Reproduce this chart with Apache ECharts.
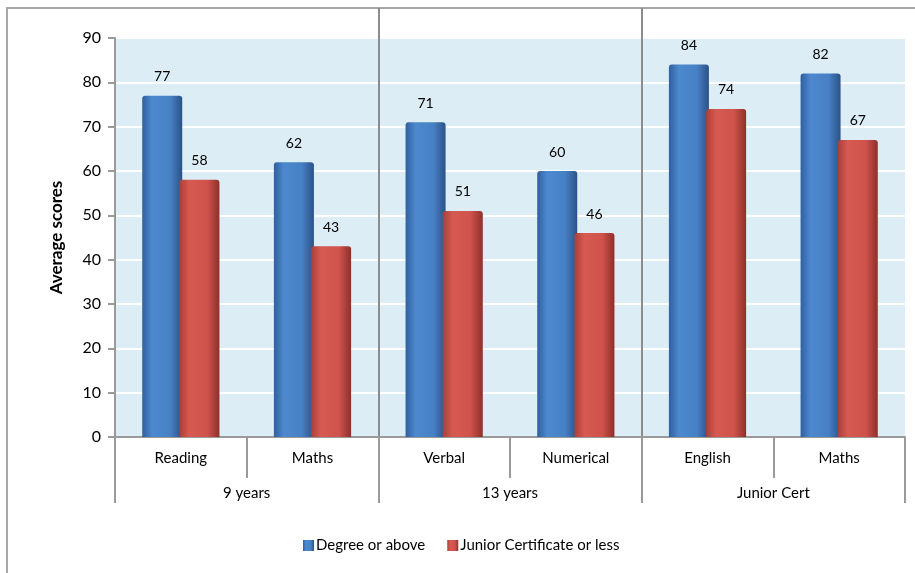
<!DOCTYPE html>
<html>
<head>
<meta charset="utf-8">
<script src="https://cdn.jsdelivr.net/npm/echarts@6/dist/echarts.min.js"></script>
<style>
  html, body { margin: 0; padding: 0; background: #fff; }
  #main { width: 915px; height: 573px; }
</style>
</head>
<body>
<div id="main"></div>
<script>
// 数据
const subCategories = ["Reading", "Maths", "Verbal", "Numerical", "English", "Maths"];
const groups = ["9 years", "13 years", "Junior Cert"];
const degreeScores = [77, 62, 71, 60, 84, 82];
const juniorScores = [58, 43, 51, 46, 74, 67];
const seriesNames = ["Degree or above", "Junior Certificate or less"];

const font = "Lato, 'Noto Sans', sans-serif";

// 柱子的立体渐变
function barGradient(edgeL, mid1, mid2, edgeR) {
  return new echarts.graphic.LinearGradient(0, 0, 1, 0, [
    { offset: 0, color: edgeL },
    { offset: 0.25, color: mid1 },
    { offset: 0.7, color: mid2 },
    { offset: 1, color: edgeR }
  ]);
}

const myChart = echarts.init(document.getElementById("main"));

myChart.setOption({
  animation: false,
  textStyle: { fontFamily: font },
  graphic: [
    {
      type: "rect",
      shape: { x: 7, y: 8, width: 1000, height: 1000 },
      style: { fill: "none", stroke: "#a6a6a6", lineWidth: 2 },
      silent: true
    }
  ],
  legend: {
    data: seriesNames,
    bottom: 15,
    left: 298,
    icon: "rect",
    itemWidth: 11,
    itemHeight: 11,
    itemGap: 22,
    textStyle: { fontSize: 15, color: "#000", fontFamily: font, padding: [0, 0, 0, -3] }
  },
  grid: [
    { left: 115, right: 10, top: 38, bottom: 136, show: true, backgroundColor: "#dcedf5", borderWidth: 0 },
    { left: 115, right: 10, top: 8, bottom: 136, show: false }
  ],
  xAxis: [
    {
      type: "category",
      gridIndex: 0,
      data: subCategories,
      axisLine: { show: true, lineStyle: { color: "#9a9a9a", width: 2 } },
      axisTick: { show: true, interval: 0, length: 41, lineStyle: { color: "#9a9a9a", width: 2 } },
      axisLabel: { interval: 0, margin: 14, fontSize: 15, color: "#000" },
      splitLine: { show: false }
    },
    {
      type: "category",
      gridIndex: 1,
      data: groups,
      axisLine: { show: false },
      axisTick: { show: true, interval: 0, length: 66, lineStyle: { color: "#9a9a9a", width: 2 } },
      axisLabel: { interval: 0, margin: 49, fontSize: 15, color: "#000" },
      splitLine: {
        show: true,
        interval: 0,
        showMinLine: false,
        showMaxLine: false,
        lineStyle: { color: "#8c8c8c", width: 2 }
      }
    }
  ],
  yAxis: [
    {
      type: "value",
      gridIndex: 0,
      min: 0,
      max: 90,
      interval: 10,
      name: "Average scores",
      nameLocation: "middle",
      nameGap: 50,
      nameTextStyle: { fontSize: 17, fontWeight: "bold", color: "#000" },
      axisLine: { show: true, lineStyle: { color: "#9a9a9a", width: 2 } },
      axisTick: { show: true, length: 7, lineStyle: { color: "#9a9a9a", width: 2 } },
      axisLabel: { margin: 14, fontSize: 16, color: "#000" },
      splitLine: { lineStyle: { color: "#ffffff", width: 2 } }
    },
    {
      type: "value",
      gridIndex: 1,
      show: false,
      min: 0,
      max: 1
    }
  ],
  series: [
    {
      name: seriesNames[0],
      type: "bar",
      xAxisIndex: 0,
      yAxisIndex: 0,
      data: degreeScores,
      barWidth: 40,
      barGap: "-7%",
      itemStyle: {
        color: barGradient("#2f609f", "#4d89cf", "#4780c4", "#2a5288"),
        borderRadius: [3, 3, 0, 0]
      },
      label: { show: true, position: "top", distance: 12, fontSize: 14, color: "#000" }
    },
    {
      name: seriesNames[1],
      type: "bar",
      xAxisIndex: 0,
      yAxisIndex: 0,
      data: juniorScores,
      barWidth: 40,
      itemStyle: {
        color: barGradient("#a8403a", "#d65a52", "#cf524b", "#8e2f2a"),
        borderRadius: [3, 3, 0, 0]
      },
      label: { show: true, position: "top", distance: 12, fontSize: 14, color: "#000" }
    }
  ]
});
</script>
</body>
</html>
